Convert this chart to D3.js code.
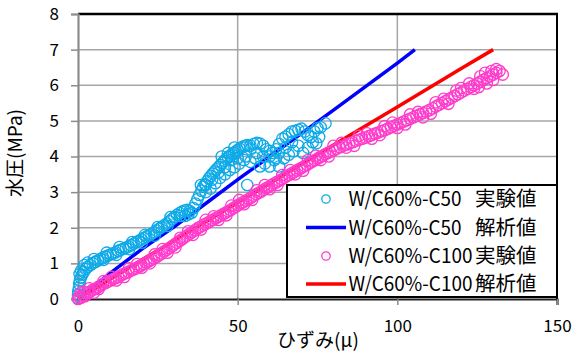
<!DOCTYPE html>
<html><head><meta charset="utf-8">
<script src="https://cdn.jsdelivr.net/npm/d3@7"></script>
<style>body{margin:0;background:#fff}svg{display:block}</style>
</head><body>
<svg id="chart" width="580" height="354"></svg>
<script>
// ---- data ----
const xTicks = [0, 50, 100, 150];
const yTicks = [0, 1, 2, 3, 4, 5, 6, 7, 8];
const xTitle = "ひずみ(μ)";
const yTitle = "水圧(MPa)";
const seriesLatin = ["W/C60%-C50", "W/C60%-C50", "W/C60%-C100", "W/C60%-C100"];
const seriesJa = ["実験値", "解析値", "実験値", "解析値"];

// W/C60%-C50 実験値 [strain, pressure]
const c50Exp = [
 [0,0.02],[0,0.12],[0.1,0.22],[0.3,0.32],[0.4,0.42],[0.6,0.52],[0.9,0.6],[1.3,0.68],[1.8,0.76],[2.4,0.84],
 [3.0,0.9],[3.8,0.95],[4.6,1.0],[5.4,1.04],[6.2,1.08],[7.0,1.12],[7.8,1.16],[8.6,1.19],[9.4,1.22],[10.2,1.25],
 [11.0,1.28],[11.8,1.31],[12.6,1.35],[13.4,1.38],[14.2,1.41],[15.0,1.44],[15.8,1.47],[16.6,1.51],[17.4,1.55],[18.2,1.59],
 [19.0,1.63],[19.8,1.67],[20.6,1.71],[21.4,1.75],[22.2,1.79],[23.0,1.83],[23.8,1.87],[24.6,1.92],[25.4,1.97],[26.2,2.02],
 [27.0,2.07],[27.8,2.12],[28.6,2.18],[29.4,2.24],[30.2,2.3],[31.0,2.36],[31.8,2.41],[32.6,2.45],[33.4,2.48],[34.2,2.5],
 [35.0,2.47],[35.6,2.42],[34.6,2.38],[33.5,2.33],
 [5.0,1.12],[9.0,1.3],[13,1.46],[17,1.6],[21,1.8],[25,2.02],[29,2.3],[8,1.1],[12,1.24],[16,1.4],[20,1.58],[24,1.78],
 [28,2.05],[32,2.33],[3,1.02],[1,0.8],[2,0.95],[0.5,0.7],
 [36.2,2.55],[36.8,2.68],[37.4,2.8],[38.0,2.92],[38.6,3.04],[39.2,3.15],[39.8,3.22],[40.4,3.3],[41.0,3.38],[41.6,3.45],
 [42.2,3.52],[42.8,3.58],[43.4,3.64],[44.0,3.7],[44.6,3.76],[45.2,3.82],[45.8,3.88],[46.4,3.94],[47.0,3.98],[47.6,4.02],
 [48.2,4.06],[48.8,4.1],[49.4,4.14],[50.0,4.18],[50.6,4.22],[51.2,4.25],[51.8,4.28],[52.4,4.3],[53.0,4.32],[54,4.3],
 [55,4.35],[56,4.38],[57,4.36],[58,4.3],[59,4.2],[60,4.15],[61,4.1],[62,4.2],[63,4.35],[64,4.5],[65,4.55],[66,4.62],
 [67,4.7],[68,4.72],[69,4.75],[70,4.78],[71,4.7],[72,4.6],[73,4.55],[74,4.7],[75,4.8],[76,4.82],[77.5,4.93],
 [38.5,3.2],[40,3.0],[41.5,3.1],[43,3.25],[44.5,3.4],[46,3.5],[47.5,3.62],[49,3.7],[50.5,3.8],[52,3.9],[53,3.2],
 [54,3.85],[55.5,3.95],[57,3.72],[58.5,3.8],[60,3.72],[61.5,3.9],[63,3.72],[64.5,3.95],[66,4.05],[67.5,4.15],[69,4.3],
 [70.5,4.1],[72,4.25],[73.5,4.4],[74.6,4.37],[75.5,4.55],[60,4.0],[56,4.1],[52.5,4.0],[50,3.95],[48,3.9],[46,3.7],
 [44,3.55],[42,3.35],[40,3.2],[45,4.0],[47,4.1],[49,4.25],[54,4.2],[58,4.0],[62,3.95],[65,4.25],[67,4.4],[63,4.1]
];

// W/C60%-C50 解析値
const c50Calc = [[0,0],[10,0.72],[20,1.4],[30,2.02],[40,2.68],[50,3.35],[60,4.0],[70,4.65],[80,5.3],[90,5.96],[100,6.62],[105.5,7.0]];

// W/C60%-C100 実験値
const c100Exp = [
 [0,0],[0.3,0.06],[0.8,0.03],[1.5,0.1],[2.2,0.08],[3,0.16],[3.8,0.2],[4.6,0.26],[5.4,0.28],[6.2,0.33],[7,0.37],
 [7.8,0.42],[8.6,0.45],[9.4,0.49],[10.2,0.52],[11,0.56],[11.8,0.59],[12.6,0.62],[13.4,0.66],[14.2,0.7],[15,0.73],
 [15.8,0.76],[16.6,0.8],[17.4,0.83],[18.2,0.86],[19,0.9],[19.8,0.94],[20.6,0.98],[21.4,1.02],[22.2,1.06],[23,1.1],
 [23.8,1.14],[24.6,1.18],[25.4,1.23],[26.2,1.28],[27,1.33],[27.8,1.38],[28.6,1.43],[29.4,1.48],[30.2,1.53],[31,1.58],
 [31.8,1.63],[32.6,1.68],[33.4,1.73],[34.2,1.78],[35,1.83],[35.8,1.88],[36.6,1.93],[37.4,1.98],[38.2,2.02],[39,2.06],
 [39.8,2.1],[40.6,2.14],[41.4,2.18],[42.2,2.22],[43,2.26],[43.8,2.3],[44.6,2.34],[45.4,2.38],[46.2,2.42],[47,2.46],
 [47.8,2.5],[48.6,2.55],[49.4,2.59],[50.2,2.64],[51,2.68],[51.8,2.72],[52.6,2.76],[53.4,2.8],[54.2,2.85],[55,2.9],
 [55.8,2.94],[56.6,2.98],[57.4,3.02],[58.2,3.07],[59,3.11],[59.8,3.15],[60.6,3.2],[61.4,3.24],[62.2,3.28],[63,3.32],
 [63.8,3.36],[64.6,3.4],[65.4,3.45],[66.2,3.49],[67,3.53],[67.8,3.57],[68.6,3.61],[69.4,3.65],[70.2,3.69],[71,3.73],
 [71.8,3.77],[72.6,3.82],[73.4,3.86],[74.2,3.9],[75,3.94],[75.8,3.98],[76.6,4.02],[77.4,4.06],[78.2,4.1],[79,4.13],
 [80,4.17],[81,4.22],[82,4.26],[83,4.3],[84,4.33],[85,4.37],[86,4.4],[87,4.44],[88,4.47],[89,4.5],[90,4.53],
 [91,4.57],[92,4.6],[93,4.64],[94,4.67],[95,4.71],[96,4.74],[97,4.78],[98,4.82],[99,4.86],[100,4.9],[101,4.94],
 [102,4.98],[103,5.02],[104,5.06],[105,5.1],[106,5.14],[107,5.18],[108,5.22],[109,5.26],[110,5.3],[111,5.35],
 [112,5.4],[113,5.45],[114,5.5],[115,5.55],[116,5.6],[117,5.65],[118,5.7],[119,5.75],[120,5.8],[121,5.85],[122,5.9],
 [123,5.95],[124,6.0],[125,6.05],[126,6.1],[127,6.15],[128,6.2],[129,6.25],[130,6.3],[131,6.35],[132,6.4],
 [2,0.2],[5,0.18],[8,0.5],[12,0.52],[16,0.86],[20,0.88],[24,1.25],[28,1.3],[32,1.72],[36,1.8],[40,2.22],[44,2.22],
 [48,2.62],[52,2.66],[56,3.05],[60,3.08],[64,3.48],[68,3.5],[72,3.9],[76,3.9],[80,4.3],[84,4.25],[88,4.58],[92,4.5],
 [96,4.85],[100,4.8],[104,5.18],[108,5.1],[112,5.52],[116,5.48],[120,5.92],[124,5.9],[126,6.25],[128,6.05],[130,6.15],
 [131,6.45],[133,6.3],[127.5,6.35],[129.5,6.4],[125.5,5.95],[122.5,6.05],[118.5,5.85],[114.5,5.62],[110.5,5.2],
 [106.5,5.25],[102.5,4.9],[98.5,4.95],[94.5,4.6],[90.5,4.65],[86.5,4.3],[82.5,4.38],[78.5,4.0],[74.5,4.02],[70.5,3.6],
 [66.5,3.62],[62.5,3.2],[58.5,3.2],[54.5,2.78],[50.5,2.78],[46.5,2.35],[42.5,2.32],[38.5,1.95],[34.5,1.9],[30.5,1.45],
 [26.5,1.4],[22.5,1.0],[18.5,0.98],[14.5,0.62],[10.5,0.62],[6.5,0.28],[3.5,0.3],[1,0.18]
];

// W/C60%-C100 解析値
const c100Calc = [[0,0],[20,1.1],[40,2.17],[60,3.24],[80,4.32],[100,5.39],[120,6.47],[130,7.0]];

// ---- drawing ----
const FONT = "'Noto Sans CJK JP','Noto Sans',sans-serif";
const svg = d3.select("#chart");
const x = d3.scaleLinear().domain([0, 150]).range([78, 557]);
const y = d3.scaleLinear().domain([0, 8]).range([299, 14]);

const colBlueExp = "#0eaae8", colPinkExp = "#ff3ccc", colBlue = "#0000ff", colRed = "#ff0000";

// gridlines
const grid = svg.append("g");
grid.selectAll("line.h").data(yTicks.filter(d => d > 0 && d < 8)).join("line")
  .attr("x1", x(0)).attr("x2", x(150)).attr("y1", d => y(d)).attr("y2", d => y(d))
  .attr("stroke", "#a6a6a6").attr("stroke-width", 1.5);
grid.selectAll("line.v").data(xTicks.filter(d => d > 0 && d < 150)).join("line")
  .attr("x1", d => x(d)).attr("x2", d => x(d)).attr("y1", y(0)).attr("y2", y(8))
  .attr("stroke", "#a6a6a6").attr("stroke-width", 1.5);

// top and right frame
svg.append("line").attr("x1", x(0)).attr("x2", x(150) + 1).attr("y1", y(8)).attr("y2", y(8))
  .attr("stroke", "#000").attr("stroke-width", 2.5);
svg.append("line").attr("x1", x(150)).attr("x2", x(150)).attr("y1", y(8)).attr("y2", y(0))
  .attr("stroke", "#000").attr("stroke-width", 2);

// axes
const yAxis = d3.axisLeft(y).tickValues(yTicks).tickSize(7).tickPadding(6).tickFormat(d3.format("d"));
const gy = svg.append("g").attr("transform", `translate(${x(0)},0)`).call(yAxis);
gy.select(".domain").attr("stroke", "#8c8c8c").attr("stroke-width", 2.2);
gy.selectAll(".tick line").attr("stroke", "#8c8c8c").attr("stroke-width", 1.5);
gy.selectAll(".tick text").attr("font-family", FONT).attr("font-size", 17).attr("fill", "#000").attr("x", -19);

const xAxis = d3.axisBottom(x).tickValues(xTicks).tickSize(6).tickPadding(15).tickFormat(d3.format("d"));
const gx = svg.append("g").attr("transform", `translate(0,${y(0)})`).call(xAxis);
gx.select(".domain").attr("stroke", "#222").attr("stroke-width", 2.2);
gx.selectAll(".tick line").attr("stroke", "#8c8c8c").attr("stroke-width", 1.5);
gx.selectAll(".tick text").attr("font-family", FONT).attr("font-size", 17).attr("fill", "#000");

// titles
svg.append("text").attr("x", 318).attr("y", 347).attr("text-anchor", "middle")
  .attr("font-family", FONT).attr("font-size", 19).attr("fill", "#000").text(xTitle);
svg.append("text").attr("transform", "translate(22,153) rotate(-90)").attr("text-anchor", "middle")
  .attr("font-family", FONT).attr("font-size", 19).attr("fill", "#000").text(yTitle);

// series
const line = d3.line().x(d => x(d[0])).y(d => y(d[1]));
svg.append("path").datum(c50Calc).attr("d", line).attr("fill", "none").attr("stroke", colBlue).attr("stroke-width", 3.5);
svg.append("path").datum(c100Calc).attr("d", line).attr("fill", "none").attr("stroke", colRed).attr("stroke-width", 3.5);
svg.append("g").selectAll("circle").data(c50Exp).join("circle")
  .attr("cx", d => x(d[0])).attr("cy", d => y(d[1])).attr("r", 5.7)
  .attr("fill", "none").attr("stroke", colBlueExp).attr("stroke-width", 1.3);
svg.append("g").selectAll("circle").data(c100Exp).join("circle")
  .attr("cx", d => x(d[0])).attr("cy", d => y(d[1])).attr("r", 5.7)
  .attr("fill", "none").attr("stroke", colPinkExp).attr("stroke-width", 1.3);

// legend
const lg = svg.append("g");
lg.append("rect").attr("x", 287).attr("y", 185).attr("width", 270).attr("height", 112)
  .attr("fill", "#fff").attr("stroke", "#000").attr("stroke-width", 2);
const rowsY = [199, 227.5, 256, 284];
const kinds = ["circle", "line", "circle", "line"];
const colors = [colBlueExp, colBlue, colPinkExp, colRed];
rowsY.forEach((ry, i) => {
  if (kinds[i] === "circle") {
    lg.append("circle").attr("cx", 326).attr("cy", ry).attr("r", 4.2)
      .attr("fill", "none").attr("stroke", colors[i]).attr("stroke-width", 1.3);
  } else {
    lg.append("line").attr("x1", 306).attr("x2", 346).attr("y1", ry).attr("y2", ry)
      .attr("stroke", colors[i]).attr("stroke-width", 3.5);
  }
  const t = lg.append("text").attr("y", ry + 7).attr("font-family", FONT).attr("font-size", 20).attr("fill", "#000");
  t.append("tspan").attr("x", 348.5).attr("textLength", seriesLatin[i].length > 10 ? 124 : 113)
    .attr("lengthAdjust", "spacingAndGlyphs").text(seriesLatin[i]);
  t.append("tspan").attr("x", 475).attr("font-size", 20.5).text(seriesJa[i]);
});
</script>
</body></html>
